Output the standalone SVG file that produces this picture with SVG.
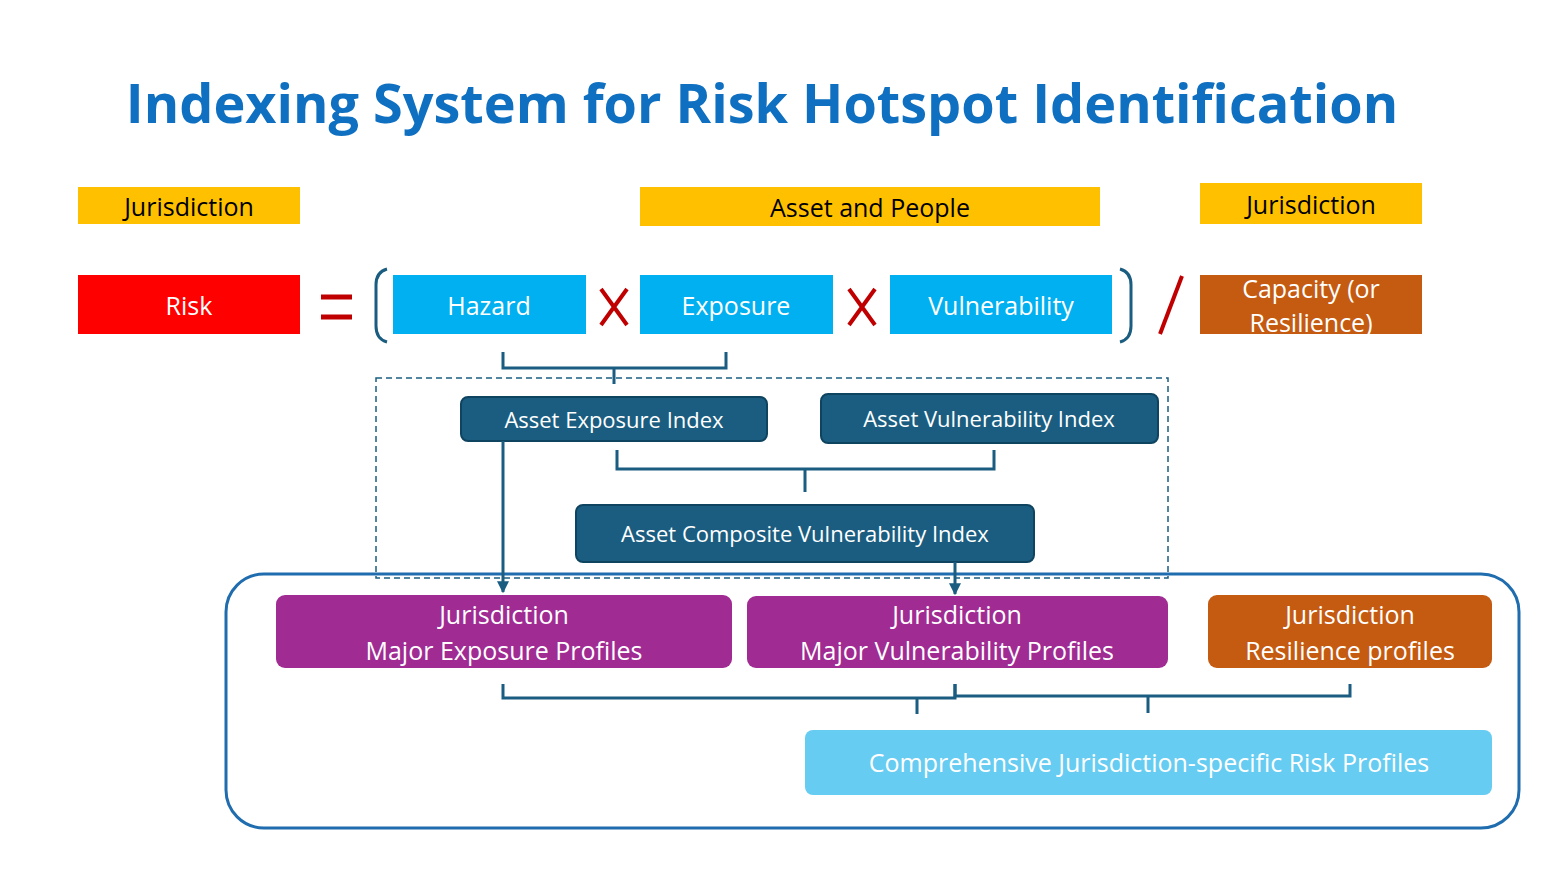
<svg xmlns="http://www.w3.org/2000/svg" width="1560" height="880" viewBox="0 0 1560 880">
<defs>
<style>
text{font-family:"Open Sans","Liberation Sans",sans-serif;text-anchor:middle;dominant-baseline:central}
.t{font-size:25px;fill:#fff}
.k{font-size:25px;fill:#000}
.n{font-size:22px;fill:#fff}
.br{fill:none;stroke:#1A5D80;stroke-width:3}
.idx{fill:#1A5D80;stroke:#0F4460;stroke-width:2}
</style>
<marker id="ar" viewBox="0 0 10 10" refX="9" refY="5" markerWidth="4" markerHeight="4" orient="auto"><path d="M0,0L10,5L0,10z" fill="#1A5D80"/></marker>
</defs>
<rect width="1560" height="880" fill="#fff"/>
<text x="762" y="102" style="font-size:54px;font-weight:bold;fill:#0F6FC0">Indexing System for Risk Hotspot Identification</text>
<g id="labels">
<rect x="78" y="187" width="222" height="37" fill="#FFC000"/><text class="k" x="189" y="206">Jurisdiction</text>
<rect x="640" y="187" width="460" height="39" fill="#FFC000"/><text class="k" x="870" y="207">Asset and People</text>
<rect x="1200" y="183" width="222" height="41" fill="#FFC000"/><text class="k" x="1311" y="204">Jurisdiction</text>
</g>
<g id="risk"><rect x="78" y="275" width="222" height="59" fill="#FF0000"/><text class="t" x="189" y="305">Risk</text></g>
<g id="ops" fill="none" stroke-linecap="butt">
<path d="M321,297H352M321,317H352" stroke="#C00000" stroke-width="5"/>
<path d="M387,269Q376,272 376,285V326Q376,339 387,342" stroke="#1A5D80" stroke-width="3"/>
<path d="M1120,269Q1131,272 1131,285V326Q1131,339 1120,342" stroke="#1A5D80" stroke-width="3"/>
<path d="M601,289L627,325M627,289L601,325M849,289L875,325M875,289L849,325" stroke="#C00000" stroke-width="4"/>
<path d="M1182,276L1160,334" stroke="#C00000" stroke-width="4"/>
</g>
<g id="hazard"><rect x="393" y="275" width="193" height="59" fill="#00B0F0"/><text class="t" x="489" y="305">Hazard</text></g>
<g id="exposure"><rect x="640" y="275" width="193" height="59" fill="#00B0F0"/><text class="t" x="736" y="305">Exposure</text></g>
<g id="vulnerability"><rect x="890" y="275" width="222" height="59" fill="#00B0F0"/><text class="t" x="1001" y="305">Vulnerability</text></g>
<g id="capacity"><rect x="1200" y="275" width="222" height="59" fill="#C55A11"/><text class="t" x="1311" y="288">Capacity (or</text><text class="t" x="1311" y="322">Resilience)</text></g>
<rect x="376" y="378" width="792" height="200" fill="none" stroke="#1A5D80" stroke-width="1.5" stroke-dasharray="6,4"/>
<rect x="226" y="574" width="1293" height="254" rx="38" fill="none" stroke="#1F6DAE" stroke-width="3"/>
<g id="aei"><rect class="idx" x="461" y="397" width="306" height="44" rx="7"/><text class="n" x="614" y="419">Asset Exposure Index</text></g>
<g id="avi"><rect class="idx" x="821" y="394" width="337" height="49" rx="7"/><text class="n" x="989" y="418">Asset Vulnerability Index</text></g>
<g id="acvi"><rect class="idx" x="576" y="505" width="458" height="57" rx="7"/><text class="n" x="805" y="533">Asset Composite Vulnerability Index</text></g>
<g id="jmep"><rect x="276" y="595" width="456" height="73" rx="9" fill="#A02B93"/><text class="t" x="504" y="614">Jurisdiction</text><text class="t" x="504" y="650">Major Exposure Profiles</text></g>
<g id="jmvp"><rect x="747" y="596" width="421" height="72" rx="9" fill="#A02B93"/><text class="t" x="957" y="614">Jurisdiction</text><text class="t" x="957" y="650">Major Vulnerability Profiles</text></g>
<g id="jrp"><rect x="1208" y="595" width="284" height="73" rx="9" fill="#C55A11"/><text class="t" x="1350" y="614">Jurisdiction</text><text class="t" x="1350" y="650">Resilience profiles</text></g>
<g id="cjrp"><rect x="805" y="730" width="687" height="65" rx="8" fill="#66CCF2"/><text class="t" x="1149" y="762">Comprehensive Jurisdiction-specific Risk Profiles</text></g>
<g id="connectors">
<path class="br" d="M503,352V368H726V352M614,368V384"/>
<path class="br" d="M617,450V469H994V450M805,469V492"/>
<path class="br" d="M503,684V698H955V684M917,698V714"/>
<path class="br" d="M955,684V696H1350V684M1148,696V713"/>
<path class="br" d="M503,441V592" marker-end="url(#ar)"/>
<path class="br" d="M955,562V594" marker-end="url(#ar)"/>
</g>
</svg>
